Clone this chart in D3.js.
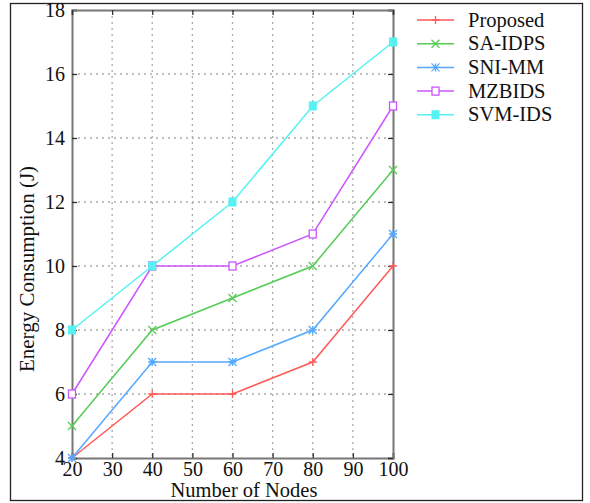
<!DOCTYPE html>
<html><head><meta charset="utf-8">
<script src="https://cdn.jsdelivr.net/npm/d3@7"></script>
<style>body{margin:0;background:#fff}svg{display:block}text{font-family:"Liberation Serif","Times New Roman",serif;fill:#111}</style>
</head><body>
<svg id="c" width="590" height="503"></svg>
<script>
const nodes = [20, 40, 60, 80, 100];
const proposed = [4, 6, 6, 7, 10];
const saIdps = [5, 8, 9, 10, 13];
const sniMm = [4, 7, 7, 8, 11];
const mzbids = [6, 10, 10, 11, 15];
const svmIds = [8, 10, 12, 15, 17];
const seriesNames = ["Proposed", "SA-IDPS", "SNI-MM", "MZBIDS", "SVM-IDS"];
const xTicks = [20, 30, 40, 50, 60, 70, 80, 90, 100];
const yTicks = [4, 6, 8, 10, 12, 14, 16, 18];

const series = [
  {name: seriesNames[0], values: proposed, color: "#ff5a5a", marker: "plus"},
  {name: seriesNames[1], values: saIdps, color: "#55cc55", marker: "x"},
  {name: seriesNames[2], values: sniMm, color: "#55a8ff", marker: "star"},
  {name: seriesNames[3], values: mzbids, color: "#cc55ff", marker: "sq"},
  {name: seriesNames[4], values: svmIds, color: "#55f2f2", marker: "fsq"}
];

const svg = d3.select("#c");
svg.append("rect").attr("x", 10.5).attr("y", 3.5).attr("width", 572).attr("height", 497)
  .attr("fill", "none").attr("stroke", "#222").attr("stroke-width", 1.3);

const L = 72, R = 393, T = 10, B = 458;
const x = d3.scaleLinear().domain([20, 100]).range([L, R]);
const y = d3.scaleLinear().domain([4, 18]).range([B, T]);

const g = svg.append("g");
g.selectAll(".gx").data(xTicks.slice(1, -1)).join("line")
  .attr("x1", d => x(d)).attr("x2", d => x(d)).attr("y1", T).attr("y2", B)
  .attr("stroke", "#aaa").attr("stroke-dasharray", "2,4").attr("stroke-width", 1.3);
g.selectAll(".gy").data(yTicks.slice(1, -1)).join("line")
  .attr("y1", d => y(d)).attr("y2", d => y(d)).attr("x1", L).attr("x2", R)
  .attr("stroke", "#aaa").attr("stroke-dasharray", "2,4").attr("stroke-width", 1.3);

const ax = d3.axisBottom(x).tickValues(xTicks).tickSize(-5).tickPadding(4).tickFormat(d3.format("d"));
const ay = d3.axisLeft(y).tickValues(yTicks).tickSize(-5).tickPadding(7).tickFormat(d3.format("d"));
const ayR = d3.axisRight(y).tickValues(yTicks).tickSize(-5).tickFormat("");
const axT = d3.axisTop(x).tickValues(xTicks).tickSize(-5).tickFormat("");
function style(sel){ sel.select(".domain").attr("stroke","#777").attr("stroke-width",2);
  sel.selectAll(".tick line").attr("stroke","#333").attr("stroke-width",1.3);
  sel.selectAll(".tick text").attr("font-size",20).attr("fill","#111").attr("font-family","Liberation Serif, serif"); }
svg.append("g").attr("transform", `translate(0,${B})`).call(ax).call(style);
svg.append("g").attr("transform", `translate(${L},0)`).call(ay).call(style);
svg.append("g").attr("transform", `translate(${R},0)`).call(ayR).call(style);
svg.append("g").attr("transform", `translate(0,${T})`).call(axT).call(style);

const line = d3.line().x((d, i) => x(nodes[i])).y(d => y(d));
function marker(sel, type, color, cx, cy) {
  const s = 4;
  if (type === "plus") {
    sel.append("path").attr("d", `M${cx-s},${cy}H${cx+s}M${cx},${cy-s}V${cy+s}`).attr("stroke", color).attr("stroke-width", 1.3);
  } else if (type === "x") {
    sel.append("path").attr("d", `M${cx-s},${cy-s}L${cx+s},${cy+s}M${cx-s},${cy+s}L${cx+s},${cy-s}`).attr("stroke", color).attr("stroke-width", 1.3);
  } else if (type === "star") {
    sel.append("path").attr("d", `M${cx-s},${cy-s}L${cx+s},${cy+s}M${cx-s},${cy+s}L${cx+s},${cy-s}M${cx},${cy-s}V${cy+s}M${cx-s},${cy}H${cx+s}`).attr("stroke", color).attr("stroke-width", 1.3);
  } else if (type === "sq") {
    sel.append("rect").attr("x", cx-3.5).attr("y", cy-4).attr("width", 7).attr("height", 8).attr("fill", "#fff").attr("stroke", color).attr("stroke-width", 1.3);
  } else {
    sel.append("rect").attr("x", cx-3.5).attr("y", cy-4).attr("width", 7).attr("height", 8).attr("fill", color).attr("stroke", color).attr("stroke-width", 1);
  }
}
series.forEach(s => {
  const sg = svg.append("g");
  sg.append("path").datum(s.values).attr("d", line).attr("fill", "none").attr("stroke", s.color).attr("stroke-width", 1.5);
  s.values.forEach((v, i) => marker(sg, s.marker, s.color, x(nodes[i]), y(v)));
});

series.forEach((s, i) => {
  const ly = 20 + i * 23.7;
  const lg = svg.append("g");
  lg.append("line").attr("x1", 417).attr("x2", 454).attr("y1", ly).attr("y2", ly).attr("stroke", s.color).attr("stroke-width", 1.5);
  marker(lg, s.marker, s.color, 435.5, ly);
  lg.append("text").attr("x", 468).attr("y", ly + 6.5).attr("font-size", 20.5).text(s.name);
});

svg.append("text").attr("x", 244).attr("y", 497).attr("text-anchor", "middle").attr("font-size", 20.5).text("Number of Nodes");
svg.append("text").attr("transform", `translate(34,269) rotate(-90)`).attr("text-anchor", "middle").attr("font-size", 21).text("Energy Consumption (J)");
</script>
</body></html>
